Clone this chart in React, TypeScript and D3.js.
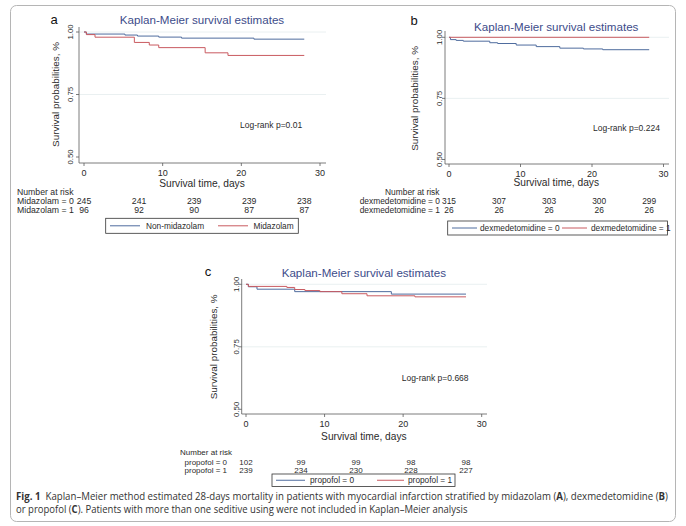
import React, { useLayoutEffect, useRef, useState } from 'react';
import * as d3 from 'd3';

// ---------- shared axis data ----------
const xTickValues = [0, 10, 20, 30];
const yTickValues = [0.5, 0.75, 1.0];
const gridValues = [0.75, 1.0];
const atRiskDays = [0, 7, 14, 21, 28];
const chartTitle = 'Kaplan-Meier survival estimates';
const yAxisTitle = 'Survival probabilities, %';
const xAxisTitle = 'Survival time, days';
const riskHeader = 'Number at risk';

// ---------- panel A : midazolam ----------
const midazolam0Days = [0, 0.3, 5.2, 6.8, 9.5, 12.4, 21.6, 28];
const midazolam0Surv = [1, 0.9918, 0.9878, 0.9837, 0.9796, 0.9755, 0.9714, 0.9714];
const midazolam1Days = [0, 0.3, 1.4, 6.4, 8.3, 9.5, 15.4, 18.3, 28];
const midazolam1Surv = [1, 0.9896, 0.9792, 0.9583, 0.9479, 0.9375, 0.9167, 0.9063, 0.9063];
const midazolam0AtRisk = [245, 241, 239, 239, 238];
const midazolam1AtRisk = [96, 92, 90, 87, 87];
const midazolamRowLabels = ['Midazolam = 0', 'Midazolam = 1'];
const midazolamLegend = ['Non-midazolam', 'Midazolam'];

// ---------- panel B : dexmedetomidine ----------
const dex0Days = [0, 0.2, 1.0, 2.0, 5.7, 6.8, 9.4, 12.2, 15.5, 18.8, 21.5, 28];
const dex0Surv = [1, 0.9905, 0.9873, 0.9841, 0.9778, 0.9746, 0.9683, 0.9619, 0.9556, 0.9524, 0.9492, 0.9492];
const dex1Days = [0, 28];
const dex1Surv = [1, 1];
const dex0AtRisk = [315, 307, 303, 300, 299];
const dex1AtRisk = [26, 26, 26, 26, 26];
const dexRowLabels = ['dexmedetomidine = 0', 'dexmedetomidine = 1'];
const dexLegend = ['dexmedetomidine = 0', 'dexmedetomidine = 1'];

// ---------- panel C : propofol ----------
const propofol0Days = [0, 0.3, 1.4, 6.2, 18.5, 28];
const propofol0Surv = [1, 0.9902, 0.9804, 0.9706, 0.9608, 0.9608];
const propofol1Days = [0, 0.3, 5.2, 6.2, 7.5, 9.4, 12.2, 15.4, 21.5, 28];
const propofol1Surv = [1, 0.9916, 0.9874, 0.9791, 0.9749, 0.9707, 0.9623, 0.954, 0.9498, 0.9498];
const propofol0AtRisk = [102, 99, 99, 98, 98];
const propofol1AtRisk = [239, 234, 230, 228, 227];
const propofolRowLabels = ['propofol = 0', 'propofol = 1'];
const propofolLegend = ['propofol = 0', 'propofol = 1'];

const panelLetters = ['a', 'b', 'c'];
const logRankLabels = ['Log-rank p=0.01', 'Log-rank p=0.224', 'Log-rank p=0.668'];

// ---------- styles ----------
const FONT = "'Liberation Sans', Arial, Helvetica, sans-serif";
const CAPTION_FONT = "'Open Sans', 'Noto Sans', sans-serif";
const BLUE = '#4f6c9e';
const RED = '#c95a60';
const TITLE = '#3d4c8a';
const AXIS = '#5a5a5a';
const TEXT = '#2a2a2a';
const GRID = '#e4ecee';

type Layout = {
  x0: number; x30: number; y05: number; y1: number;
  axisX: number; axisY: number; plotTop: number; plotRight: number;
  letterX: number; letterY: number; titleY: number;
  yTickX: number; yTitleX: number; xTickY: number; xTitleY: number;
  logX: number; logY: number;
  headerX: number; headerY: number; headerAnchor: string;
  rowX: number; rowAnchor: string; rowY: number[]; riskFont: number;
  legend: { x: number; y: number; w: number; h: number; l1: number[]; t1: number; l2: number[]; t2: number };
};

type PanelProps = {
  layout: Layout;
  letter: string;
  logRank: string;
  series: { days: number[]; surv: number[]; color: string }[];
  atRisk: number[][];
  rowLabels: string[];
  legend: string[];
};

function Panel({ layout: L, letter, logRank, series, atRisk, rowLabels, legend }: PanelProps) {
  const x = d3.scaleLinear().domain([0, 30]).range([L.x0, L.x30]);
  const y = d3.scaleLinear().domain([0.5, 1]).range([L.y05, L.y1]);
  const line = d3
    .line<[number, number]>()
    .x((d) => x(d[0]))
    .y((d) => y(d[1]))
    .curve(d3.curveStepAfter);
  const midX = (L.x0 + L.x30) / 2;
  const midY = (L.y05 + L.y1) / 2;
  const ly = L.legend.y + L.legend.h / 2;
  return (
    <g style={{ fontFamily: FONT }}>
      {gridValues.map((g) => (
        <line key={'g' + g} x1={L.axisX} x2={L.plotRight} y1={y(g)} y2={y(g)} stroke={GRID} strokeWidth={0.8} />
      ))}
      <line x1={L.axisX} x2={L.axisX} y1={L.plotTop} y2={L.axisY} stroke={AXIS} strokeWidth={0.8} />
      <line x1={L.axisX} x2={L.plotRight} y1={L.axisY} y2={L.axisY} stroke={AXIS} strokeWidth={0.8} />
      {yTickValues.map((v) => (
        <g key={'yt' + v}>
          <line x1={L.axisX - 3} x2={L.axisX} y1={y(v)} y2={y(v)} stroke={AXIS} strokeWidth={0.8} />
          <text
            transform={`translate(${L.yTickX},${y(v)}) rotate(-90)`}
            textAnchor="middle"
            fontSize={7.8}
            fill={TEXT}
          >
            {d3.format('.2f')(v)}
          </text>
        </g>
      ))}
      {xTickValues.map((v) => (
        <g key={'xt' + v}>
          <line x1={x(v)} x2={x(v)} y1={L.axisY} y2={L.axisY + 3} stroke={AXIS} strokeWidth={0.8} />
          <text x={x(v)} y={L.xTickY} textAnchor="middle" fontSize={9} fill={TEXT}>
            {v}
          </text>
        </g>
      ))}
      <text
        transform={`translate(${L.yTitleX},${midY}) rotate(-90)`}
        textAnchor="middle"
        fontSize={9.9}
        fill={TEXT}
      >
        {yAxisTitle}
      </text>
      <text x={midX} y={L.xTitleY} textAnchor="middle" fontSize={10.2} fill={TEXT}>
        {xAxisTitle}
      </text>
      <text x={midX} y={L.titleY} textAnchor="middle" fontSize={11.6} fill={TITLE}>
        {chartTitle}
      </text>
      <text x={L.letterX} y={L.letterY} textAnchor="middle" fontSize={13} fill="#111">
        {letter}
      </text>
      {series.map((s, i) => (
        <path
          key={'s' + i}
          d={line(d3.zip(s.days, s.surv) as [number, number][]) || ''}
          fill="none"
          stroke={s.color}
          strokeWidth={1}
        />
      ))}
      <text x={L.logX} y={L.logY} fontSize={8.5} fill={TEXT}>
        {logRank}
      </text>
      <text x={L.headerX} y={L.headerY} textAnchor={L.headerAnchor as any} fontSize={L.riskFont} fill={TEXT}>
        {riskHeader}
      </text>
      {atRisk.map((row, r) => (
        <g key={'r' + r}>
          <text x={L.rowX} y={L.rowY[r]} textAnchor={L.rowAnchor as any} fontSize={L.riskFont} fill={TEXT}>
            {rowLabels[r]}
          </text>
          {row.map((n, k) => (
            <text key={k} x={x(atRiskDays[k])} y={L.rowY[r]} textAnchor="middle" fontSize={L.riskFont} fill={TEXT}>
              {n}
            </text>
          ))}
        </g>
      ))}
      <rect x={L.legend.x} y={L.legend.y} width={L.legend.w} height={L.legend.h} fill="none" stroke="#333" strokeWidth={0.8} />
      <line x1={L.legend.l1[0]} x2={L.legend.l1[1]} y1={ly} y2={ly} stroke={series[0].color} strokeWidth={1} />
      <text x={L.legend.t1} y={ly + 3} fontSize={8.3} fill={TEXT}>
        {legend[0]}
      </text>
      <line x1={L.legend.l2[0]} x2={L.legend.l2[1]} y1={ly} y2={ly} stroke={series[1].color} strokeWidth={1} />
      <text x={L.legend.t2} y={ly + 3} fontSize={8.3} fill={TEXT}>
        {legend[1]}
      </text>
    </g>
  );
}

const layoutA: Layout = {
  x0: 84, x30: 320, y05: 157, y1: 32,
  axisX: 79, axisY: 163, plotTop: 27, plotRight: 326,
  letterX: 54, letterY: 24, titleY: 24,
  yTickX: 73, yTitleX: 58.5, xTickY: 176, xTitleY: 186.7,
  logX: 240, logY: 128,
  headerX: 17, headerY: 194.8, headerAnchor: 'start',
  rowX: 17, rowAnchor: 'start', rowY: [204.1, 213.1], riskFont: 8.7,
  legend: { x: 105.7, y: 218.3, w: 192.6, h: 15, l1: [110, 140], t1: 146, l2: [218, 248], t2: 253.5 },
};

const layoutB: Layout = {
  x0: 449, x30: 663.5, y05: 159.5, y1: 37.3,
  axisX: 445, axisY: 164, plotTop: 31, plotRight: 669,
  letterX: 414, letterY: 24.5, titleY: 30.8,
  yTickX: 441.5, yTitleX: 418.2, xTickY: 176.5, xTitleY: 186.4,
  logX: 593, logY: 131,
  headerX: 439.5, headerY: 194.8, headerAnchor: 'end',
  rowX: 440, rowAnchor: 'end', rowY: [203.8, 213.1], riskFont: 8.4,
  legend: { x: 447.7, y: 221, w: 219.8, h: 14, l1: [452, 477], t1: 480, l2: [562, 587], t2: 591 },
};

const layoutC: Layout = {
  x0: 246, x30: 481.7, y05: 409.3, y1: 284.3,
  axisX: 241.7, axisY: 414, plotTop: 279, plotRight: 487,
  letterX: 208, letterY: 276.3, titleY: 276.8,
  yTickX: 239.4, yTitleX: 216.5, xTickY: 427.2, xTitleY: 440.4,
  logX: 401.7, logY: 381,
  headerX: 180, headerY: 455, headerAnchor: 'start',
  rowX: 227, rowAnchor: 'end', rowY: [464.5, 472.8], riskFont: 8,
  legend: { x: 272, y: 474, w: 183, h: 12.5, l1: [276, 305], t1: 310, l2: [377, 404], t2: 408 },
};

const captionWidths = [652, 452];

function Caption() {
  const r1 = useRef<SVGTextElement>(null);
  const r2 = useRef<SVGTextElement>(null);
  const [scales, setScales] = useState([1, 1]);
  useLayoutEffect(() => {
    const w1 = r1.current ? r1.current.getComputedTextLength() : 0;
    const w2 = r2.current ? r2.current.getComputedTextLength() : 0;
    setScales([w1 > 0 ? captionWidths[0] / w1 : 1, w2 > 0 ? captionWidths[1] / w2 : 1]);
  }, []);
  return (
    <g style={{ fontFamily: CAPTION_FONT }} fontSize={10} fill="#333">
      <g transform={`translate(16,500) scale(${scales[0]},1)`}>
        <text ref={r1} x={0} y={0} style={{ whiteSpace: 'pre' }}>
          <tspan fontWeight="bold">Fig. 1</tspan>
          {'  Kaplan–Meier method estimated 28-days mortality in patients with myocardial infarction stratified by midazolam ('}
          <tspan fontWeight="bold">A</tspan>
          {'), dexmedetomidine ('}
          <tspan fontWeight="bold">B</tspan>
          {')'}
        </text>
      </g>
      <g transform={`translate(16,512.5) scale(${scales[1]},1)`}>
        <text ref={r2} x={0} y={0} style={{ whiteSpace: 'pre' }}>
          {'or propofol ('}
          <tspan fontWeight="bold">C</tspan>
          {'). Patients with more than one seditive using were not included in Kaplan–Meier analysis'}
        </text>
      </g>
    </g>
  );
}

export default function App() {
  return (
    <svg width={686} height={526} style={{ position: 'absolute', left: 0, top: 0, background: '#fff' }}>
      <rect x={0} y={0} width={686} height={526} fill="#fff" />
      <rect x={10.5} y={5.5} width={665} height={516} rx={6} fill="none" stroke="#b5b5b5" strokeWidth={1} />
      <Panel
        layout={layoutA}
        letter={panelLetters[0]}
        logRank={logRankLabels[0]}
        series={[
          { days: midazolam0Days, surv: midazolam0Surv, color: BLUE },
          { days: midazolam1Days, surv: midazolam1Surv, color: RED },
        ]}
        atRisk={[midazolam0AtRisk, midazolam1AtRisk]}
        rowLabels={midazolamRowLabels}
        legend={midazolamLegend}
      />
      <Panel
        layout={layoutB}
        letter={panelLetters[1]}
        logRank={logRankLabels[1]}
        series={[
          { days: dex0Days, surv: dex0Surv, color: BLUE },
          { days: dex1Days, surv: dex1Surv, color: RED },
        ]}
        atRisk={[dex0AtRisk, dex1AtRisk]}
        rowLabels={dexRowLabels}
        legend={dexLegend}
      />
      <Panel
        layout={layoutC}
        letter={panelLetters[2]}
        logRank={logRankLabels[2]}
        series={[
          { days: propofol0Days, surv: propofol0Surv, color: BLUE },
          { days: propofol1Days, surv: propofol1Surv, color: RED },
        ]}
        atRisk={[propofol0AtRisk, propofol1AtRisk]}
        rowLabels={propofolRowLabels}
        legend={propofolLegend}
      />
      <Caption />
    </svg>
  );
}
